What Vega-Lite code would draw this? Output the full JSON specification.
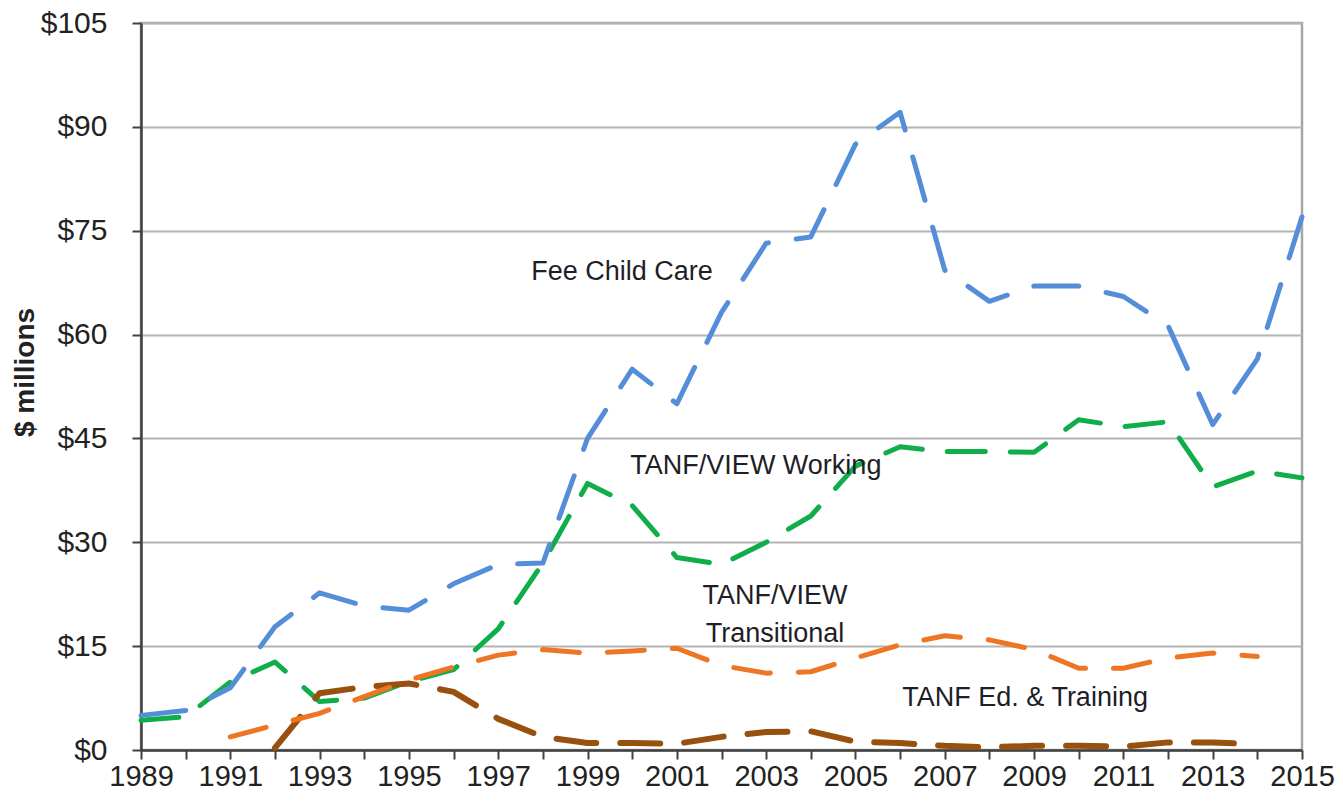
{
  "$schema": "https://vega.github.io/schema/vega-lite/v6.json",
  "width": 1161,
  "height": 727,
  "autosize": {"type": "none"},
  "padding": {"left": 141, "top": 23, "right": 41, "bottom": 55},
  "background": "white",
  "config": {
    "view": {"stroke": "#a6a6a6", "strokeWidth": 2.5},
    "font": "Liberation Sans"
  },
  "datasets": {
    "series": [
      {"series": "Fee Child Care", "year": 1989, "value": 5.0},
      {"series": "Fee Child Care", "year": 1990, "value": 5.7},
      {"series": "Fee Child Care", "year": 1991, "value": 9.0},
      {"series": "Fee Child Care", "year": 1992, "value": 17.8},
      {"series": "Fee Child Care", "year": 1993, "value": 22.7},
      {"series": "Fee Child Care", "year": 1994, "value": 20.8},
      {"series": "Fee Child Care", "year": 1995, "value": 20.2},
      {"series": "Fee Child Care", "year": 1996, "value": 24.0},
      {"series": "Fee Child Care", "year": 1997, "value": 26.8},
      {"series": "Fee Child Care", "year": 1998, "value": 27.0},
      {"series": "Fee Child Care", "year": 1999, "value": 45.0},
      {"series": "Fee Child Care", "year": 2000, "value": 55.0},
      {"series": "Fee Child Care", "year": 2001, "value": 50.0},
      {"series": "Fee Child Care", "year": 2002, "value": 63.2},
      {"series": "Fee Child Care", "year": 2003, "value": 73.2},
      {"series": "Fee Child Care", "year": 2004, "value": 74.1},
      {"series": "Fee Child Care", "year": 2005, "value": 87.5},
      {"series": "Fee Child Care", "year": 2006, "value": 92.1},
      {"series": "Fee Child Care", "year": 2007, "value": 69.3},
      {"series": "Fee Child Care", "year": 2008, "value": 64.8},
      {"series": "Fee Child Care", "year": 2009, "value": 67.0},
      {"series": "Fee Child Care", "year": 2010, "value": 67.0},
      {"series": "Fee Child Care", "year": 2011, "value": 65.5},
      {"series": "Fee Child Care", "year": 2012, "value": 61.3},
      {"series": "Fee Child Care", "year": 2013, "value": 47.0},
      {"series": "Fee Child Care", "year": 2014, "value": 56.5},
      {"series": "Fee Child Care", "year": 2015, "value": 77.0},
      {"series": "TANF/VIEW Working", "year": 1989, "value": 4.3},
      {"series": "TANF/VIEW Working", "year": 1990, "value": 4.8},
      {"series": "TANF/VIEW Working", "year": 1991, "value": 9.8},
      {"series": "TANF/VIEW Working", "year": 1992, "value": 12.7},
      {"series": "TANF/VIEW Working", "year": 1993, "value": 7.0},
      {"series": "TANF/VIEW Working", "year": 1994, "value": 7.5},
      {"series": "TANF/VIEW Working", "year": 1995, "value": 9.9},
      {"series": "TANF/VIEW Working", "year": 1996, "value": 11.6},
      {"series": "TANF/VIEW Working", "year": 1997, "value": 17.5},
      {"series": "TANF/VIEW Working", "year": 1998, "value": 27.0},
      {"series": "TANF/VIEW Working", "year": 1999, "value": 38.5},
      {"series": "TANF/VIEW Working", "year": 2000, "value": 35.3},
      {"series": "TANF/VIEW Working", "year": 2001, "value": 27.8},
      {"series": "TANF/VIEW Working", "year": 2002, "value": 26.8},
      {"series": "TANF/VIEW Working", "year": 2003, "value": 30.0},
      {"series": "TANF/VIEW Working", "year": 2004, "value": 33.8},
      {"series": "TANF/VIEW Working", "year": 2005, "value": 41.0},
      {"series": "TANF/VIEW Working", "year": 2006, "value": 43.8},
      {"series": "TANF/VIEW Working", "year": 2007, "value": 43.1},
      {"series": "TANF/VIEW Working", "year": 2008, "value": 43.1},
      {"series": "TANF/VIEW Working", "year": 2009, "value": 43.0},
      {"series": "TANF/VIEW Working", "year": 2010, "value": 47.7},
      {"series": "TANF/VIEW Working", "year": 2011, "value": 46.7},
      {"series": "TANF/VIEW Working", "year": 2012, "value": 47.4},
      {"series": "TANF/VIEW Working", "year": 2013, "value": 38.0},
      {"series": "TANF/VIEW Working", "year": 2014, "value": 40.3},
      {"series": "TANF/VIEW Working", "year": 2015, "value": 39.3},
      {"series": "TANF/VIEW Transitional", "year": 1991, "value": 1.9},
      {"series": "TANF/VIEW Transitional", "year": 1992, "value": 3.6},
      {"series": "TANF/VIEW Transitional", "year": 1993, "value": 5.3},
      {"series": "TANF/VIEW Transitional", "year": 1994, "value": 7.7},
      {"series": "TANF/VIEW Transitional", "year": 1995, "value": 10.1},
      {"series": "TANF/VIEW Transitional", "year": 1996, "value": 12.0},
      {"series": "TANF/VIEW Transitional", "year": 1997, "value": 13.7},
      {"series": "TANF/VIEW Transitional", "year": 1998, "value": 14.5},
      {"series": "TANF/VIEW Transitional", "year": 1999, "value": 14.0},
      {"series": "TANF/VIEW Transitional", "year": 2000, "value": 14.3},
      {"series": "TANF/VIEW Transitional", "year": 2001, "value": 14.7},
      {"series": "TANF/VIEW Transitional", "year": 2002, "value": 12.2},
      {"series": "TANF/VIEW Transitional", "year": 2003, "value": 11.1},
      {"series": "TANF/VIEW Transitional", "year": 2004, "value": 11.3},
      {"series": "TANF/VIEW Transitional", "year": 2005, "value": 13.3},
      {"series": "TANF/VIEW Transitional", "year": 2006, "value": 15.2},
      {"series": "TANF/VIEW Transitional", "year": 2007, "value": 16.5},
      {"series": "TANF/VIEW Transitional", "year": 2008, "value": 15.9},
      {"series": "TANF/VIEW Transitional", "year": 2009, "value": 14.5},
      {"series": "TANF/VIEW Transitional", "year": 2010, "value": 11.8},
      {"series": "TANF/VIEW Transitional", "year": 2011, "value": 11.8},
      {"series": "TANF/VIEW Transitional", "year": 2012, "value": 13.3},
      {"series": "TANF/VIEW Transitional", "year": 2013, "value": 14.0},
      {"series": "TANF/VIEW Transitional", "year": 2014, "value": 13.5},
      {"series": "TANF Ed. & Training", "year": 1992, "value": 0.3},
      {"series": "TANF Ed. & Training", "year": 1993, "value": 8.2},
      {"series": "TANF Ed. & Training", "year": 1994, "value": 9.1},
      {"series": "TANF Ed. & Training", "year": 1995, "value": 9.6},
      {"series": "TANF Ed. & Training", "year": 1996, "value": 8.4},
      {"series": "TANF Ed. & Training", "year": 1997, "value": 4.5},
      {"series": "TANF Ed. & Training", "year": 1998, "value": 1.9},
      {"series": "TANF Ed. & Training", "year": 1999, "value": 1.0},
      {"series": "TANF Ed. & Training", "year": 2000, "value": 1.0},
      {"series": "TANF Ed. & Training", "year": 2001, "value": 0.9},
      {"series": "TANF Ed. & Training", "year": 2002, "value": 1.9},
      {"series": "TANF Ed. & Training", "year": 2003, "value": 2.6},
      {"series": "TANF Ed. & Training", "year": 2004, "value": 2.7},
      {"series": "TANF Ed. & Training", "year": 2005, "value": 1.2},
      {"series": "TANF Ed. & Training", "year": 2006, "value": 1.0},
      {"series": "TANF Ed. & Training", "year": 2007, "value": 0.6},
      {"series": "TANF Ed. & Training", "year": 2008, "value": 0.4},
      {"series": "TANF Ed. & Training", "year": 2009, "value": 0.6},
      {"series": "TANF Ed. & Training", "year": 2010, "value": 0.6},
      {"series": "TANF Ed. & Training", "year": 2011, "value": 0.5},
      {"series": "TANF Ed. & Training", "year": 2012, "value": 1.1},
      {"series": "TANF Ed. & Training", "year": 2013, "value": 1.1},
      {"series": "TANF Ed. & Training", "year": 2014, "value": 0.8}
    ],
    "labels": [
      {"label": "Fee Child Care", "year": 1999.77, "value": 69.0},
      {"label": "TANF/VIEW Working", "year": 2002.77, "value": 41.0},
      {"label": "TANF/VIEW", "year": 2003.2, "value": 22.2},
      {"label": "Transitional", "year": 2003.2, "value": 16.75},
      {"label": "TANF Ed. & Training", "year": 2008.8, "value": 7.5}
    ]
  },
  "data": {"name": "series"},
  "encoding": {
    "x": {
      "field": "year",
      "type": "quantitative",
      "scale": {"domain": [1989, 2015], "nice": false, "zero": false},
      "axis": {
        "title": null,
        "values": [1989, 1990, 1991, 1992, 1993, 1994, 1995, 1996, 1997, 1998, 1999, 2000, 2001, 2002, 2003, 2004, 2005, 2006, 2007, 2008, 2009, 2010, 2011, 2012, 2013, 2014, 2015],
        "labelExpr": "datum.value % 2 == 1 ? format(datum.value, 'd') : ''",
        "grid": false,
        "tickSize": 9,
        "tickWidth": 2,
        "tickColor": "#404040",
        "domainColor": "#404040",
        "domainWidth": 2.5,
        "labelFontSize": 29,
        "labelColor": "#222222",
        "labelPadding": 3,
        "labelFlush": false,
        "labelOverlap": false
      }
    },
    "y": {
      "field": "value",
      "type": "quantitative",
      "scale": {"domain": [0, 105], "nice": false},
      "axis": {
        "title": "$ millions",
        "titleFontSize": 28,
        "titleFontWeight": "bold",
        "titleColor": "#222222",
        "titleAngle": -90,
        "titleX": -116,
        "titleY": 349,
        "titleAlign": "center",
        "titleBaseline": "middle",
        "values": [0, 15, 30, 45, 60, 75, 90, 105],
        "labelExpr": "'$' + datum.value",
        "grid": true,
        "gridColor": "#b4b4b4",
        "gridWidth": 2,
        "tickSize": 9,
        "tickWidth": 2,
        "tickColor": "#404040",
        "domainColor": "#404040",
        "domainWidth": 2.5,
        "labelFontSize": 30,
        "labelColor": "#222222",
        "labelPadding": 25
      }
    }
  },
  "layer": [
    {
      "transform": [{"filter": "datum.series == 'TANF/VIEW Working'"}],
      "mark": {"type": "line", "color": "#0fae4a", "strokeWidth": 5, "strokeDash": [38, 25], "strokeCap": "round", "strokeJoin": "round"}
    },
    {
      "transform": [{"filter": "datum.series == 'Fee Child Care'"}],
      "mark": {"type": "line", "color": "#558ed8", "strokeWidth": 5, "strokeDash": [45, 28], "strokeCap": "round", "strokeJoin": "round"}
    },
    {
      "transform": [{"filter": "datum.series == 'TANF Ed. & Training'"}],
      "mark": {"type": "line", "color": "#98500f", "strokeWidth": 6, "strokeDash": [40, 24], "strokeCap": "round", "strokeJoin": "round"}
    },
    {
      "transform": [{"filter": "datum.series == 'TANF/VIEW Transitional'"}],
      "mark": {"type": "line", "color": "#ed7524", "strokeWidth": 5, "strokeDash": [37, 28], "strokeCap": "round", "strokeJoin": "round"}
    },
    {
      "data": {"name": "labels"},
      "mark": {"type": "text", "font": "Liberation Sans", "fontSize": 27, "color": "#1e1e28", "align": "center", "baseline": "middle"},
      "encoding": {"text": {"field": "label", "type": "nominal"}}
    }
  ]
}
